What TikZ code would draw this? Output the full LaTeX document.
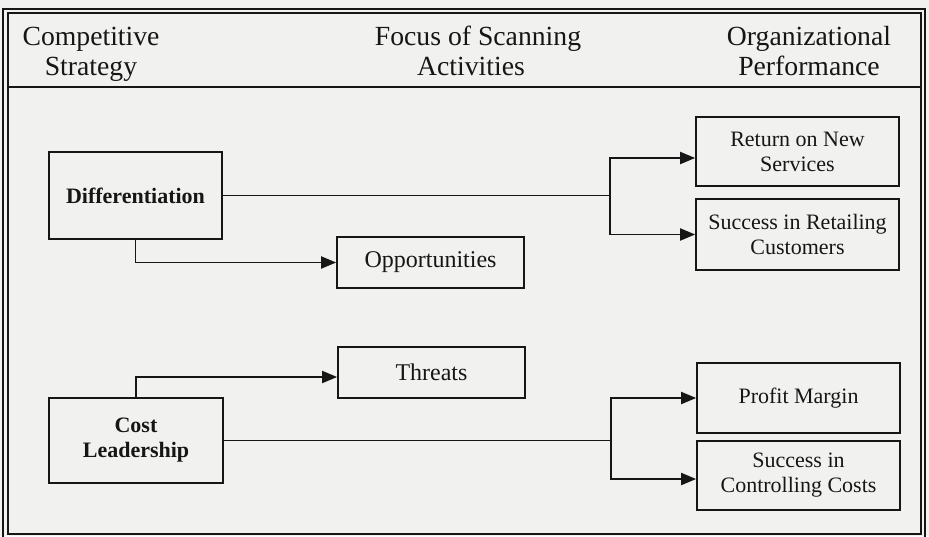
\documentclass[tikz,border=0pt]{standalone}
\usepackage{fontspec}
\setmainfont{Liberation Serif}
\usetikzlibrary{arrows.meta}
\definecolor{bg}{RGB}{241,241,239}
\definecolor{ink}{RGB}{22,22,22}
\begin{document}
\begin{tikzpicture}[x=1pt,y=-1pt,
  every node/.style={text=ink},
  box/.style={draw=ink, line width=1.7pt, inner sep=0pt, align=center,
    font=\fontsize{22}{25}\selectfont},
  boldbox/.style={box, font=\fontsize{22}{25}\selectfont\bfseries},
  midbox/.style={box, font=\fontsize{24}{27}\selectfont},
  conn/.style={draw=ink, line width=1.9pt, -{Triangle[length=15pt,width=12pt]}},
  trunk/.style={draw=ink, line width=1.9pt},
  frame/.style={draw=ink, line width=1.3pt},
  head/.style={align=center, anchor=north, inner sep=0pt, font=\fontsize{27.7}{30}\selectfont}]
\useasboundingbox[fill=bg] (0,0) rectangle (929,536);
% frame
\draw[frame] (3,9) rectangle (925,540);
\draw[frame] (8,13) rectangle (921,534);
\draw[frame] (8,87) -- (921,87);
% headers
\node[head] (h1) at (91,24.5) {\strut Competitive\\Strategy};
\node[head] (h2) at (478,24.5) {\strut Focus of Scanning\\Activities\hspace*{14pt}};
\node[head] (h3) at (809,24.5) {\strut Organizational\\Performance};
% boxes
\node[boldbox, minimum width=173pt, minimum height=87pt] (diff) at (135.5,195.5) {Differentiation};
\node[boldbox, minimum width=174pt, minimum height=85pt] (cost) at (136,440.5) {Cost\\Leadership};
\node[midbox, minimum width=187pt, minimum height=51pt] (opp) at (430.5,262.5) {Opportunities};
\node[midbox, minimum width=187pt, minimum height=51pt] (thr) at (431.5,372.5) {Threats};
\node[box, minimum width=203pt, minimum height=69pt] (ret) at (797.5,151.5) {Return on New\\Services};
\node[box, minimum width=203pt, minimum height=71pt] (retail) at (797.5,234.5) {Success in Retailing\\Customers};
\node[box, minimum width=203pt, minimum height=70pt] (profit) at (798.5,398) {Profit Margin};
\node[box, minimum width=203pt, minimum height=69pt] (ctrl) at (798.5,475.5) {Success in\\Controlling Costs};
% junctions
\coordinate (j1) at (610,195.5);
\coordinate (j2) at (611,440.5);
% connectors
\draw[trunk] (diff.east) -- (j1);
\draw[conn] (j1) |- ([yshift=-6.5pt]ret.west);
\draw[conn] (j1) |- (retail.west);
\draw[conn] (diff.south) |- (opp.west);
\draw[conn] (cost.north) |- ([yshift=-4.5pt]thr.west);
\draw[trunk] (cost.east) -- (j2);
\draw[conn] (j2) |- (profit.west);
\draw[conn] (j2) |- ([yshift=-3.5pt]ctrl.west);
\end{tikzpicture}
\end{document}
